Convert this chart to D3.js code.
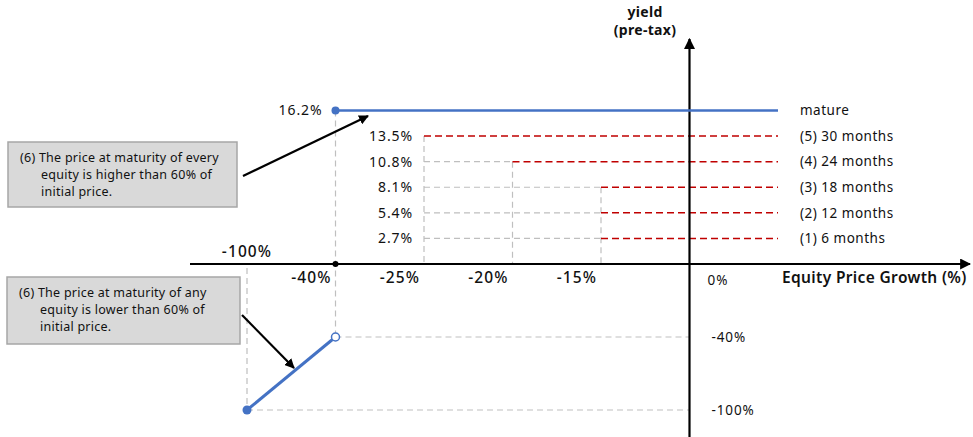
<!DOCTYPE html>
<html><head><meta charset="utf-8">
<script src="https://cdn.jsdelivr.net/npm/d3@7"></script>
<style>body{margin:0;background:#fff;} text{font-family:"Noto Sans","Open Sans",sans-serif;}</style>
</head><body><svg id="c" width="973" height="437"></svg>
<script>
// ---- data ----
const xTickValues = [-100, -40, -25, -20, -15, 0, 15];
const xTickLabels = ["-100%", "-40%", "-25%", "-20%", "-15%", "0%", ""];
const yPosValues = [2.7, 5.4, 8.1, 10.8, 13.5, 16.2];
const yPosLabels = ["2.7%", "5.4%", "8.1%", "10.8%", "13.5%", "16.2%"];
const yNegValues = [-40, -100];
const yNegLabels = ["-40%", "-100%"];
const earlyStarts = [-15, -15, -15, -20, -25];   // x where each early-redemption line starts
const earlyYields = [2.7, 5.4, 8.1, 10.8, 13.5];
const earlyNames = ["(1) 6 months", "(2) 12 months", "(3) 18 months", "(4) 24 months", "(5) 30 months"];
const matureStart = -40, matureYield = 16.2, matureName = "mature";
const lossLine = [[-100, -100], [-40, -40]];
const xEnd = 15;
const note1 = ["(6) The price at maturity of every", "equity is higher than 60% of", "initial price."];
const note2 = ["(6) The price at maturity of any", "equity is lower than 60% of", "initial price."];

// ---- scales (schematic, evenly spaced categories) ----
const x = d3.scaleLinear().domain(xTickValues).range(xTickValues.map((d, i) => 247 + i * 88.5));
const y = d3.scaleLinear().domain([-100, -40, 0, 16.2]).range([410, 337, 264, 110.5]);

const svg = d3.select("#c");
const blue = "#4472c4", red = "#c00000", gray = "#bfbfbf", ink = "#111";
const defs = svg.append("defs");
defs.append("marker").attr("id", "ah").attr("viewBox", "0 0 10 10").attr("refX", 9).attr("refY", 5)
  .attr("markerWidth", 5).attr("markerHeight", 5).attr("orient", "auto")
  .append("path").attr("d", "M0,0L10,5L0,10z").attr("fill", "#000");
defs.append("marker").attr("id", "ah2").attr("viewBox", "0 0 10 10").attr("refX", 9).attr("refY", 5)
  .attr("markerWidth", 4.5).attr("markerHeight", 4.5).attr("orient", "auto")
  .append("path").attr("d", "M0,0L10,5L0,10z").attr("fill", "#000");

const gd = svg.append("g").attr("stroke", gray).attr("stroke-width", 1.2).attr("stroke-dasharray", "6,4").attr("fill", "none");
// gray guides
const gx0 = x(-25);
earlyYields.forEach((v, i) => {
  if (earlyStarts[i] > -25) gd.append("line").attr("x1", gx0).attr("x2", x(earlyStarts[i])).attr("y1", y(v)).attr("y2", y(v));
});
[-25, -20, -15].forEach(s => {
  const top = d3.max(earlyYields.filter((v, i) => earlyStarts[i] === s));
  gd.append("line").attr("x1", x(s)).attr("x2", x(s)).attr("y1", y(top)).attr("y2", y(0));
});
gd.append("line").attr("x1", x(-40)).attr("x2", x(-40)).attr("y1", y(matureYield)).attr("y2", y(-40));
gd.append("line").attr("x1", x(-100)).attr("x2", x(-100)).attr("y1", y(0) + 4).attr("y2", y(-100));
gd.append("line").attr("x1", x(-40)).attr("x2", x(0)).attr("y1", y(-40)).attr("y2", y(-40));
gd.append("line").attr("x1", x(-100)).attr("x2", x(0)).attr("y1", y(-100)).attr("y2", y(-100));

// red dashed early redemption lines
svg.append("g").selectAll("line").data(earlyYields).join("line")
  .attr("x1", (d, i) => x(earlyStarts[i])).attr("x2", x(xEnd))
  .attr("y1", d => y(d)).attr("y2", d => y(d))
  .attr("stroke", red).attr("stroke-width", 1.5).attr("stroke-dasharray", "7,4");

// axes
svg.append("line").attr("x1", 190).attr("x2", 970).attr("y1", y(0)).attr("y2", y(0))
  .attr("stroke", "#000").attr("stroke-width", 2.2).attr("marker-end", "url(#ah)");
svg.append("line").attr("x1", x(0)).attr("x2", x(0)).attr("y1", 437).attr("y2", 39)
  .attr("stroke", "#000").attr("stroke-width", 2.2).attr("marker-end", "url(#ah)");

// mature line
svg.append("line").attr("x1", x(matureStart)).attr("x2", x(xEnd)).attr("y1", y(matureYield)).attr("y2", y(matureYield))
  .attr("stroke", blue).attr("stroke-width", 2.5);
svg.append("circle").attr("cx", x(matureStart)).attr("cy", y(matureYield)).attr("r", 4).attr("fill", blue);

// loss line
svg.append("path").attr("d", d3.line().x(d => x(d[0])).y(d => y(d[1]))(lossLine))
  .attr("stroke", blue).attr("stroke-width", 3).attr("fill", "none");
svg.append("circle").attr("cx", x(lossLine[0][0])).attr("cy", y(lossLine[0][1])).attr("r", 4.5).attr("fill", blue);
svg.append("circle").attr("cx", x(lossLine[1][0])).attr("cy", y(lossLine[1][1])).attr("r", 4).attr("fill", "#fff").attr("stroke", blue).attr("stroke-width", 1.5);
svg.append("circle").attr("cx", x(-40)).attr("cy", y(0)).attr("r", 3).attr("fill", "#000");

// x tick labels
const tx = svg.append("g").attr("font-size", 15.5).attr("font-weight", 500).attr("letter-spacing", 1.1).attr("fill", ink);
xTickValues.forEach((v, i) => {
  const lab = xTickLabels[i];
  if (!lab) return;
  if (v === -100) tx.append("text").attr("x", x(v)).attr("y", 257).attr("text-anchor", "middle").text(lab);
  else if (v === 0) svg.append("text").attr("x", x(v) + 18).attr("y", 285).attr("font-size", 13.5).attr("letter-spacing", 1).attr("fill", ink).text(lab);
  else tx.append("text").attr("x", x(v) - 4).attr("y", 283).attr("text-anchor", "end").text(lab);
});
// y labels positive
yPosValues.forEach((v, i) => {
  const ax = v === matureYield ? x(-40) - 13 : x(-25) - 11;
  svg.append("text").attr("x", ax).attr("y", y(v)).attr("dy", "0.35em").attr("text-anchor", "end")
    .attr("font-size", 14).attr("letter-spacing", 0.9).attr("fill", ink).text(yPosLabels[i]);
});
yNegValues.forEach((v, i) => {
  svg.append("text").attr("x", x(0) + 22).attr("y", y(v)).attr("dy", "0.35em")
    .attr("font-size", 13.5).attr("letter-spacing", 0.9).attr("fill", ink).text(yNegLabels[i]);
});
// right-side names
svg.append("text").attr("x", 800).attr("y", y(matureYield)).attr("dy", "0.35em").attr("font-size", 13.5).attr("letter-spacing", 0.5).attr("fill", ink).text(matureName);
earlyYields.forEach((v, i) => {
  svg.append("text").attr("x", 800).attr("y", y(v)).attr("dy", "0.35em").attr("font-size", 13.5).attr("letter-spacing", 0.5).attr("fill", ink).text(earlyNames[i]);
});
// axis titles
svg.append("text").attr("x", 782).attr("y", 283).attr("font-size", 15.5).attr("font-weight", 600).attr("letter-spacing", 0.35).attr("fill", ink).text("Equity Price Growth (%)");
svg.append("text").attr("x", 645).attr("y", 17).attr("text-anchor", "middle").attr("font-size", 14).attr("font-weight", 700).attr("letter-spacing", 0.3).attr("fill", ink).text("yield");
svg.append("text").attr("x", 645).attr("y", 35).attr("text-anchor", "middle").attr("font-size", 14).attr("font-weight", 700).attr("letter-spacing", 0.3).attr("fill", ink).text("(pre-tax)");

// note boxes
function note(bx, by, bw, bh, lines) {
  svg.append("rect").attr("x", bx).attr("y", by).attr("width", bw).attr("height", bh)
    .attr("fill", "#d9d9d9").attr("stroke", "#a6a6a6").attr("stroke-width", 1.5);
  lines.forEach((t, i) => svg.append("text").attr("x", i === 0 ? bx + 12 : bx + 33).attr("y", by + 20 + i * 17)
    .attr("font-size", 12.5).attr("letter-spacing", 0.25).attr("fill", ink).text(t));
}
note(8, 142, 229, 65, note1);
note(7, 277, 233, 67, note2);
svg.append("line").attr("x1", 243).attr("y1", 176).attr("x2", 368).attr("y2", 116)
  .attr("stroke", "#000").attr("stroke-width", 2.2).attr("marker-end", "url(#ah2)");
svg.append("line").attr("x1", 242).attr("y1", 315).attr("x2", 294).attr("y2", 368)
  .attr("stroke", "#000").attr("stroke-width", 2.2).attr("marker-end", "url(#ah2)");
</script></body></html>
